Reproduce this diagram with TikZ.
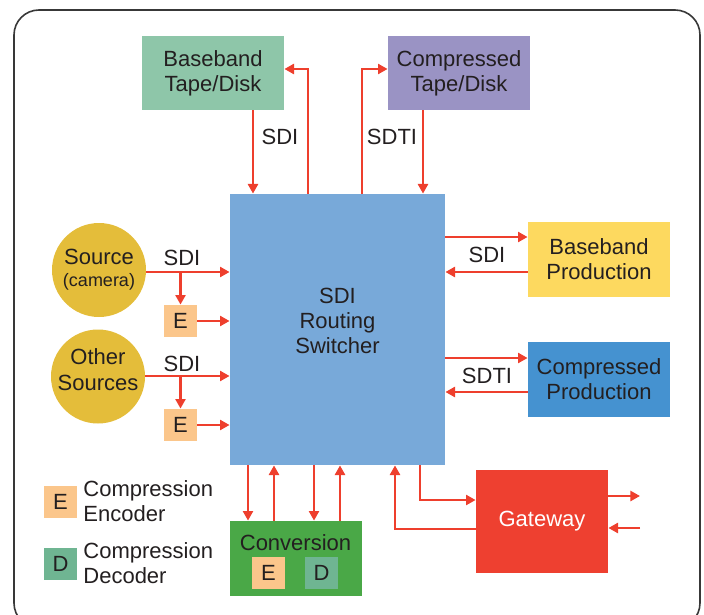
\documentclass[tikz,border=0pt]{standalone}
\usepackage{fontspec}
\setmainfont{Liberation Sans}
\usetikzlibrary{arrows.meta}

\definecolor{txt}{HTML}{231F20}
\definecolor{wire}{HTML}{EE3F2D}
\definecolor{ctape}{HTML}{8EC6A9}
\definecolor{cctape}{HTML}{9A93C4}
\definecolor{cswitch}{HTML}{78A9D9}
\definecolor{csource}{HTML}{E4BD3A}
\definecolor{cenc}{HTML}{FBC68B}
\definecolor{cdec}{HTML}{6FB592}
\definecolor{cbprod}{HTML}{FDD95F}
\definecolor{ccprod}{HTML}{4592D0}
\definecolor{cconv}{HTML}{4AA847}
\definecolor{cgate}{HTML}{EE4030}

\begin{document}
\begin{tikzpicture}[x=0.5pt,y=-0.5pt,
  box/.style={draw=none,inner sep=0pt,align=center,text=txt,
    font=\fontsize{11}{12.5}\selectfont},
  disc/.style={circle,draw=none,inner sep=0pt,fill=csource,minimum size=47pt},
  tag/.style={text=txt,inner sep=0pt,align=center,font=\fontsize{11}{12.5}\selectfont},
  sbox/.style={box,minimum width=16.5pt,minimum height=16pt},
  link/.style={draw=wire,line width=1.3pt,-{Triangle[length=4.8pt,width=5pt]}},
  frame/.style={draw=black!78,line width=0.8pt,rounded corners=12.5pt}]

\useasboundingbox (0,0) rectangle (704,614);
\draw[frame] (14,10) rectangle (700,628);

% storage
\node[box,fill=ctape,minimum width=71pt,minimum height=37pt] (btd) at (213,73) {Baseband\\Tape/Disk};
\node[box,fill=cctape,minimum width=71pt,minimum height=37pt] (ctd) at (459,73) {Compressed\\Tape/Disk};

% router
\node[box,fill=cswitch,minimum width=107.5pt,minimum height=135.5pt] (sw) at (337.5,329.5) {};
\node[tag] (swt) at (337.5,321) {SDI\\Routing\\Switcher};

% sources
\node[disc] (src) at (99,270) {};
\node[tag] (srct) at (99,270) {Source\\[-1.5pt]{\fontsize{9}{10}\selectfont(camera)}};
\node[disc] (oth) at (98,376.5) {};
\node[tag] (otht) at (98,370) {Other\\[0.5pt]Sources};
\node[sbox,fill=cenc] (e1) at (180.5,321) {E};
\node[sbox,fill=cenc] (e2) at (180.5,425) {E};

% production
\node[box,fill=cbprod,minimum width=71pt,minimum height=37.5pt] (bp) at (599,259.5) {Baseband\\Production};
\node[box,fill=ccprod,minimum width=71pt,minimum height=37.5pt] (cp) at (599,379.5) {Compressed\\Production};

% conversion and gateway
\node[box,fill=cconv,minimum width=66pt,minimum height=37.5pt] (conv) at (295.5,558.5) {};
\node[tag] (convt) at (295.5,543) {Conversion};
\node[sbox,fill=cenc] (ce) at (268.5,573) {E};
\node[sbox,fill=cdec] (cd) at (321.5,573) {D};
\node[box,fill=cgate,minimum width=66pt,minimum height=51.5pt,text=white] (gw) at (542,521.5) {Gateway};

% legend
\node[sbox,fill=cenc] (le) at (60.5,502) {E};
\node[tag,align=left,anchor=west] (let) at (83,501) {Compression\\Encoder};
\node[sbox,fill=cdec] (ld) at (60.5,564) {D};
\node[tag,align=left,anchor=west] (ldt) at (83,563.5) {Compression\\Decoder};

% routing points
\coordinate (a1) at (253,0);
\coordinate (a2) at (423,0);
\coordinate (u1) at (308,69);
\coordinate (u2) at (362,69);
\coordinate (b1) at (180.5,272);
\coordinate (b2) at (180.5,376);
\coordinate (r1) at (0,237);
\coordinate (r2) at (0,272);
\coordinate (r3) at (0,358);
\coordinate (r4) at (0,392);
\coordinate (c1) at (248,0);
\coordinate (c2) at (274,0);
\coordinate (c3) at (314,0);
\coordinate (c4) at (340,0);
\coordinate (t1) at (420,500);
\coordinate (t2) at (395,529);
\coordinate (g1) at (640,496);
\coordinate (g2) at (640,528);

% top links
\draw[link] (btd.south -| a1) -- (sw.north -| a1);
\draw[link] (sw.north -| u1) -- (u1) -- (btd.east |- u1);
\draw[link] (sw.north -| u2) -- (u2) -- (ctd.west |- u2);
\draw[link] (ctd.south -| a2) -- (sw.north -| a2);
\node[tag] at (280,137) {SDI};
\node[tag] at (392,137) {SDTI};

% source links
\draw[link] (src.east |- b1) -- (sw.west |- b1);
\draw[link] (b1) -- (e1.north);
\draw[link] (e1.east) -- (e1.east -| sw.west);
\draw[link] (oth.east |- b2) -- (sw.west |- b2);
\draw[link] (b2) -- (e2.north);
\draw[link] (e2.east) -- (e2.east -| sw.west);
\node[tag] at (182,258) {SDI};
\node[tag] at (182,364) {SDI};

% production links
\draw[link] (sw.east |- r1) -- (bp.west |- r1);
\draw[link] (bp.west |- r2) -- (sw.east |- r2);
\draw[link] (sw.east |- r3) -- (cp.west |- r3);
\draw[link] (cp.west |- r4) -- (sw.east |- r4);
\node[tag] at (487,255) {SDI};
\node[tag] at (487,376) {SDTI};

% conversion links
\draw[link] (sw.south -| c1) -- (conv.north -| c1);
\draw[link] (conv.north -| c2) -- (sw.south -| c2);
\draw[link] (sw.south -| c3) -- (conv.north -| c3);
\draw[link] (conv.north -| c4) -- (sw.south -| c4);

% gateway links
\draw[link] (sw.south -| t1) -- (t1) -- (gw.west |- t1);
\draw[link] (gw.west |- t2) -- (t2) -- (sw.south -| t2);
\draw[link] (gw.east |- g1) -- (g1);
\draw[link] (g2) -- (gw.east |- g2);
\end{tikzpicture}
\end{document}
